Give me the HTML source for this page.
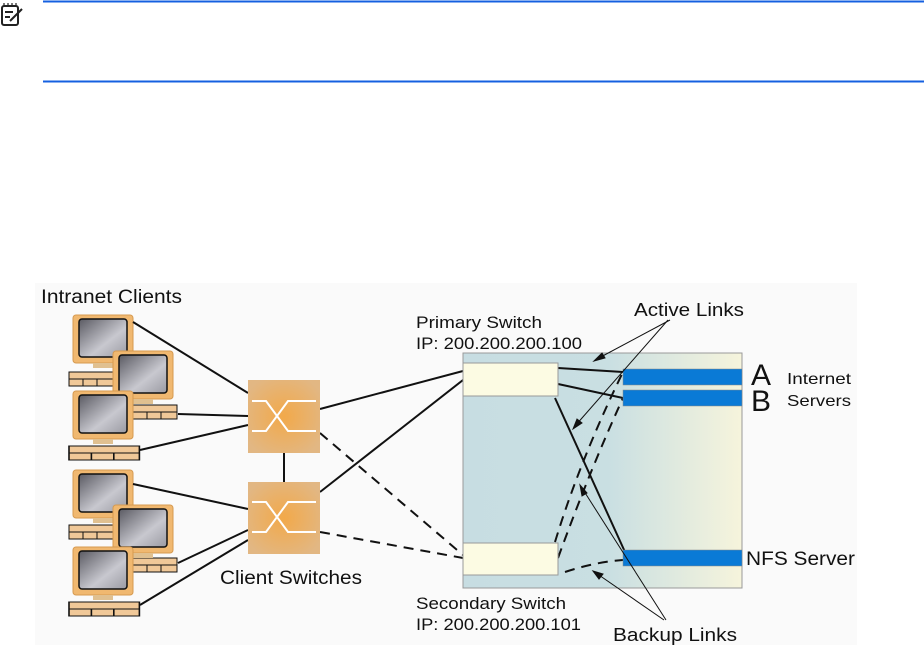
<!DOCTYPE html>
<html><head><meta charset="utf-8"><style>
html,body{margin:0;padding:0;background:#fff;width:924px;height:645px;overflow:hidden}
svg{display:block}
text{font-family:"Liberation Sans",sans-serif;fill:#111}
</style></head><body>
<svg width="924" height="645" viewBox="0 0 924 645">
<defs>
<linearGradient id="bg" x1="0" x2="1" y1="0" y2="0">
<stop offset="0" stop-color="#c7dde2"/><stop offset="0.52" stop-color="#c9dfe2"/><stop offset="1" stop-color="#f6f4dc"/></linearGradient>
<radialGradient id="sw" cx="0.5" cy="0.5" r="0.6"><stop offset="0" stop-color="#f2a94a"/><stop offset="1" stop-color="#e2b783"/></radialGradient>
<linearGradient id="scr" x1="0" y1="0" x2="1" y2="1"><stop offset="0" stop-color="#5a5a62"/><stop offset="0.6" stop-color="#c8c8cf"/><stop offset="1" stop-color="#9a9aa2"/></linearGradient>
<g id="pc">
<rect x="0" y="0" width="60" height="48" rx="3" fill="#f0b870" stroke="#d69a50"/>
<rect x="6" y="4" width="48" height="38" rx="3" fill="url(#scr)" stroke="#111" stroke-width="1.5"/>
<rect x="20" y="48" width="20" height="5" fill="#e0c090"/>
</g>
<g id="kb">
<rect x="0" y="0" width="44" height="14" fill="#f0c898" stroke="#111" stroke-width="1"/>
<line x1="0" y1="7" x2="44" y2="7" stroke="#111"/><line x1="14" y1="7" x2="14" y2="14" stroke="#111"/><line x1="28" y1="7" x2="28" y2="14" stroke="#111"/>
</g>
</defs>
<line x1="43" y1="1.5" x2="924" y2="1.5" stroke="#1560e0" stroke-width="2"/>
<line x1="43" y1="81.5" x2="924" y2="81.5" stroke="#1560e0" stroke-width="2"/>
<g stroke="#222" stroke-width="2" fill="none"><rect x="2" y="6" width="16" height="19" rx="2"/><line x1="5" y1="12" x2="13" y2="12"/><line x1="5" y1="17" x2="10" y2="17"/><line x1="10" y1="21" x2="22" y2="9"/><path d="M4 6v-3M8 6v-3M12 6v-3M16 6v-3" stroke-width="1.2"/></g>
<rect x="35" y="283" width="822" height="362" fill="#fafafa"/>
<rect x="463" y="353" width="279" height="235" fill="url(#bg)" stroke="#999"/>
<use href="#kb" x="69" y="372"/><use href="#pc" x="73" y="315"/>
<use href="#kb" x="133" y="405"/><use href="#pc" x="113" y="351"/>
<use href="#kb" x="69" y="446" transform="translate(69 446) scale(1.6 1) translate(-69 -446)"/><use href="#pc" x="73" y="391"/>
<use href="#kb" x="69" y="525"/><use href="#pc" x="73" y="470"/>
<use href="#kb" x="133" y="558"/><use href="#pc" x="113" y="505"/>
<use href="#kb" x="69" y="602" transform="translate(69 602) scale(1.6 1) translate(-69 -602)"/><use href="#pc" x="73" y="547"/>
<g stroke="#111" stroke-width="2" fill="none">
<line x1="133" y1="322" x2="248" y2="393"/><line x1="178" y1="414" x2="248" y2="416"/><line x1="140" y1="450" x2="248" y2="425"/>
<line x1="133" y1="484" x2="248" y2="509"/><line x1="178" y1="563" x2="248" y2="530"/><line x1="140" y1="605" x2="248" y2="540"/>
<line x1="284" y1="453" x2="284" y2="482"/>
<line x1="320" y1="409" x2="463" y2="371"/><line x1="320" y1="492" x2="463" y2="380"/>
<line x1="558" y1="368" x2="623" y2="372"/><line x1="558" y1="384" x2="623" y2="398"/><line x1="555" y1="398" x2="625" y2="552"/>
</g>
<g stroke="#111" stroke-width="2" fill="none" stroke-dasharray="10,7">
<line x1="320" y1="433" x2="463" y2="555"/><line x1="320" y1="532" x2="463" y2="558"/>
<path d="M555 542 Q580 460 623 372"/><path d="M558 558 Q590 470 623 398"/><path d="M565 572 Q595 562 623 560"/>
</g>
<g stroke="#fff" stroke-width="2" fill="none">
<rect x="248" y="380" width="72" height="73" fill="url(#sw)" stroke="none"/>
<path d="M252 401h14l22 30h28M252 431h14l22-30h28"/>
<rect x="248" y="482" width="72" height="72" fill="url(#sw)" stroke="none"/>
<path d="M252 502h14l22 30h28M252 532h14l22-30h28"/>
</g>
<rect x="463" y="363" width="95" height="33" fill="#fcfbe3" stroke="#999"/>
<rect x="463" y="543" width="95" height="32" fill="#fcfbe3" stroke="#999"/>
<g fill="#0a7ad6" stroke="#888" stroke-width="0.5"><rect x="623" y="369" width="119" height="16"/><rect x="623" y="390" width="119" height="16"/><rect x="623" y="550" width="119" height="16"/></g>
<g stroke="#111" stroke-width="1" fill="#111">
<line x1="670" y1="320" x2="597" y2="359"/><polygon points="594,361 602,353 605,358"/>
<line x1="668" y1="320" x2="575" y2="426"/><polygon points="573,429 577,419 582,423"/>
<line x1="666" y1="620" x2="582" y2="488"/><polygon points="580,485 587,493 582,496"/>
<line x1="664" y1="620" x2="596" y2="573"/><polygon points="593,571 603,574 599,579"/>
</g>
<g lengthAdjust="spacingAndGlyphs">
<text x="41" y="303" font-size="19" textLength="141" lengthAdjust="spacingAndGlyphs">Intranet Clients</text>
<text x="220" y="584" font-size="19" textLength="142" lengthAdjust="spacingAndGlyphs">Client Switches</text>
<text x="416" y="328" font-size="17" textLength="126" lengthAdjust="spacingAndGlyphs">Primary Switch</text>
<text x="416" y="349" font-size="17" textLength="166" lengthAdjust="spacingAndGlyphs">IP: 200.200.200.100</text>
<text x="416" y="609" font-size="17" textLength="150" lengthAdjust="spacingAndGlyphs">Secondary Switch</text>
<text x="416" y="630" font-size="17" textLength="165" lengthAdjust="spacingAndGlyphs">IP: 200.200.200.101</text>
<text x="634" y="316" font-size="18" textLength="110" lengthAdjust="spacingAndGlyphs">Active Links</text>
<text x="613" y="641" font-size="18" textLength="124" lengthAdjust="spacingAndGlyphs">Backup Links</text>
<text x="751" y="385" font-size="30">A</text>
<text x="751" y="411" font-size="30">B</text>
<text x="787" y="384" font-size="16" textLength="64" lengthAdjust="spacingAndGlyphs">Internet</text>
<text x="787" y="406" font-size="16" textLength="64" lengthAdjust="spacingAndGlyphs">Servers</text>
<text x="746" y="565" font-size="19" textLength="109" lengthAdjust="spacingAndGlyphs">NFS Server</text>
</g>
</svg>
</body></html>
